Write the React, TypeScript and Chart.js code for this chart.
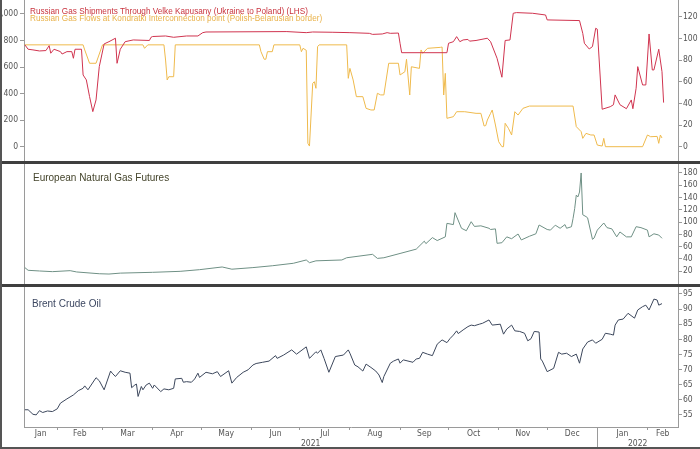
import React, { useEffect, useRef } from 'react';
import { Chart, registerables } from 'chart.js';

Chart.register(...registerables);

// x values are days counted from 2021-01-01
const X_MIN = 10.45;
const X_MAX = 414.9;
const MONTH_STARTS = [31, 59, 90, 120, 151, 181, 212, 243, 273, 304, 334, 365, 396];
const MONTH_NAMES = ['Jan', 'Feb', 'Mar', 'Apr', 'May', 'Jun', 'Jul', 'Aug', 'Sep', 'Oct', 'Nov', 'Dec', 'Jan', 'Feb'];
const YEAR_LABELS = ['2021', '2022'];
const YEAR_SPLIT = 365;

const LHS_TICKS = [0, 200, 400, 600, 800, 1000];
const RHS_TICKS = [0, 20, 40, 60, 80, 100, 120];
const GAS_TICKS = [20, 40, 60, 80, 100, 120, 140, 160, 180];
const BRENT_TICKS = [55, 60, 65, 70, 75, 80, 85, 90, 95];

const RED_LABEL = 'Russian Gas Shipments Through Velke Kapusany (Ukraine to Poland) (LHS)';
const ORANGE_LABEL = 'Russian Gas Flows at Kondratki Interconnection point (Polish-Belarusian border)';
const GAS_LABEL = 'European Natural Gas Futures';
const BRENT_LABEL = 'Brent Crude Oil';

const RED_DAYS = [11, 13, 16, 20, 24, 26, 27, 29, 33, 34, 37, 40, 41, 42, 46, 47, 49, 51, 53, 55, 57, 60, 63, 67, 68, 70, 73, 78, 88, 89, 90, 98, 103, 111, 118, 121, 123, 173, 185, 189, 201, 212, 224, 226, 232, 235, 237, 242, 243, 244, 272, 273, 276, 278, 280, 282, 285, 286, 290, 297, 299, 303, 306, 308, 311, 313, 315, 325, 333, 334, 354, 356, 357, 360, 362, 364, 365, 368, 373, 375, 376, 379, 383, 386, 387, 389, 390, 393, 395, 397, 399, 400, 403, 405, 406];
const RED_VALUES = [767, 734, 729, 721, 724, 761, 704, 734, 716, 698, 716, 716, 666, 734, 734, 540, 503, 377, 264, 352, 603, 774, 791, 817, 628, 734, 791, 804, 800, 824, 830, 834, 824, 834, 834, 859, 864, 867, 859, 864, 862, 859, 854, 846, 849, 859, 854, 856, 779, 708, 708, 779, 791, 829, 791, 804, 808, 795, 800, 817, 791, 666, 523, 800, 804, 1005, 1010, 1005, 992, 955, 950, 854, 779, 736, 754, 892, 885, 282, 301, 316, 390, 316, 286, 352, 286, 440, 603, 465, 465, 849, 578, 578, 734, 565, 332];

const ORANGE_DAYS = [11, 47, 48, 51, 55, 59, 84, 85, 87, 97, 98, 99, 100, 103, 104, 156, 157, 159, 160, 161, 164, 165, 181, 182, 183, 185, 186, 187, 189, 190, 191, 192, 193, 210, 211, 212, 214, 216, 220, 222, 225, 227, 229, 231, 233, 236, 242, 243, 246, 247, 249, 250, 255, 256, 257, 260, 268, 269, 270, 271, 272, 276, 278, 283, 290, 293, 295, 296, 297, 299, 300, 302, 304, 306, 307, 308, 310, 312, 314, 316, 319, 323, 350, 352, 355, 356, 358, 361, 363, 365, 368, 369, 370, 393, 396, 398, 402, 403, 404, 405];
const ORANGE_VALUES = [94, 94, 89.3, 77, 77, 94, 94, 90.8, 94, 94, 80, 61.6, 64.6, 64.6, 94, 94, 87.7, 80.7, 80.7, 87.7, 87.7, 94, 94, 87.7, 90.8, 89, 3.1, 0.6, 58.5, 60, 53.9, 92.3, 94, 94, 63.1, 72.3, 61.6, 46.2, 46.2, 35.4, 33.9, 33.9, 49.3, 47.8, 47.8, 77, 77, 66.2, 69.2, 80.7, 47.7, 73.8, 72.3, 89.3, 86.2, 90.8, 91.7, 92, 47.7, 67.7, 26.2, 27.7, 32.3, 32.3, 30.8, 30.8, 19.1, 19.5, 24.6, 30.8, 33.9, 20, 4.6, 0, 0, 21.6, 17, 10.8, 32.3, 29.2, 35.4, 37.5, 37.5, 18.5, 13.9, 7.7, 12.3, 10.8, 10.8, 1.5, 0.6, 7.7, 0, 0, 10.8, 9.2, 9.5, 3.1, 10.8, 8];

const GAS_DAYS = [11, 13, 20, 28, 39, 43, 57, 63, 70, 90, 107, 119, 133, 139, 152, 164, 177, 185, 187, 191, 207, 210, 226, 229, 233, 243, 253, 258, 259, 263, 266, 271, 272, 276, 277, 281, 284, 287, 289, 293, 298, 299, 302, 303, 306, 309, 312, 316, 318, 323, 327, 329, 334, 336, 339, 342, 345, 346, 349, 350, 351, 352, 353, 354, 355, 356, 358, 359, 362, 363, 365, 369, 371, 374, 377, 379, 383, 386, 389, 392, 396, 397, 400, 403, 405];
const GAS_VALUES = [26, 21.6, 20.5, 19.4, 21, 18.9, 16, 15.5, 17, 18.3, 19.9, 22.6, 27, 23.4, 26, 29, 33, 38.4, 34, 37, 38.4, 42, 47.6, 41, 42, 49, 56, 69, 65, 74.8, 70, 76, 98, 96, 115.4, 90, 86, 100.7, 93, 94, 90, 88, 89, 65.5, 66.5, 76, 73, 80.7, 71, 77, 81, 95.3, 88, 87, 95, 90, 96, 90, 92.5, 106, 122, 144, 141, 149, 180, 112, 109, 107, 72, 74, 87, 98.6, 91, 89, 76, 84, 76, 76, 92.6, 91, 87, 76, 81, 79, 73.7];

const BRENT_DAYS = [11, 13, 16, 18, 20, 22, 25, 28, 31, 33, 37, 41, 44, 47, 48, 50, 55, 57, 60, 64, 65, 67, 70, 73, 76, 77, 79, 80, 81, 83, 84, 86, 88, 90, 91, 95, 97, 100, 103, 104, 108, 109, 111, 114, 116, 118, 119, 123, 127, 130, 132, 137, 139, 142, 146, 149, 152, 154, 158, 162, 166, 167, 171, 176, 179, 185, 187, 189, 191, 192, 194, 196, 199, 203, 208, 211, 212, 215, 217, 220, 222, 225, 228, 230, 232, 233, 237, 239, 242, 243, 245, 251, 253, 255, 257, 260, 263, 266, 269, 272, 274, 276, 278, 279, 282, 285, 287, 289, 292, 294, 298, 300, 305, 307, 309, 312, 314, 317, 320, 322, 324, 326, 329, 330, 331, 334, 338, 341, 343, 346, 349, 352, 354, 356, 359, 362, 364, 368, 370, 373, 375, 376, 378, 381, 384, 388, 390, 393, 395, 397, 400, 402, 403, 405];
const BRENT_VALUES = [56.7, 56.7, 55.2, 55.0, 56.4, 55.8, 56.3, 56.1, 57.0, 58.9, 60.3, 61.6, 63.0, 63.8, 64.6, 63.3, 67.3, 66.3, 63.3, 69.5, 68.8, 67.7, 69.6, 69.1, 68.8, 64.0, 64.9, 65.2, 61.1, 64.4, 63.3, 64.9, 65.5, 63.8, 64.9, 62.7, 63.6, 63.3, 63.8, 66.9, 67.1, 65.8, 66.0, 65.8, 66.9, 68.8, 67.4, 69.1, 68.6, 69.3, 67.7, 69.6, 65.5, 67.4, 69.1, 69.9, 71.5, 72.0, 72.4, 72.8, 74.6, 73.7, 74.8, 76.5, 75.1, 77.5, 73.7, 74.8, 75.9, 75.4, 76.5, 73.7, 69.1, 74.3, 74.8, 76.5, 75.4, 71.5, 70.9, 69.5, 71.8, 70.7, 69.5, 68.2, 65.7, 67.7, 72.1, 72.8, 73.5, 72.1, 73.2, 72.4, 73.5, 73.7, 75.7, 75.1, 74.6, 78.4, 79.8, 78.9, 80.3, 81.4, 82.8, 81.9, 83.1, 84.2, 84.7, 84.5, 85.0, 85.3, 86.4, 84.7, 85.0, 81.7, 83.4, 84.7, 82.8, 82.6, 82.0, 79.5, 80.2, 82.6, 82.4, 73.5, 72.8, 69.3, 70.4, 75.7, 75.1, 75.4, 74.3, 75.1, 72.1, 76.8, 79.1, 79.8, 78.7, 80.0, 82.0, 81.7, 81.4, 84.7, 86.4, 86.7, 88.6, 87.0, 89.7, 90.8, 91.3, 89.7, 93.3, 93.0, 91.3, 91.8];

const FONT = "'Liberation Sans', Arial, sans-serif";
const TICK_FONT = "'Liberation Sans Narrow', 'Arial Narrow', 'DejaVu Sans Condensed', 'Liberation Sans', sans-serif";
const TICK_COLOR = '#555555';
const AXIS_COLOR = '#9a9a9a';
const RED = '#d0344f';
const ORANGE = '#efba4c';
const GAS_COLOR = '#6f9085';
const BRENT_COLOR = '#3c475c';

const pts = (xs: number[], ys: number[]) => xs.map((x, i) => ({ x, y: ys[i] }));

const noPad = (s: any) => {
  s.paddingTop = 0;
  s.paddingBottom = 0;
  s.paddingLeft = 0;
  s.paddingRight = 0;
};

// month boundary ticks + centred month labels
const buildXTicks = () => {
  const edges = [X_MIN, ...MONTH_STARTS, X_MAX];
  const out: { value: number; label: string; boundary: boolean }[] = [];
  for (let i = 0; i < edges.length - 1; i++) {
    out.push({ value: (edges[i] + edges[i + 1]) / 2, label: MONTH_NAMES[i], boundary: false });
    if (i < MONTH_STARTS.length) out.push({ value: MONTH_STARTS[i], label: '', boundary: true });
  }
  return out;
};
const X_TICKS = buildXTicks();
const YEAR_TICKS = [
  { value: (X_MIN + YEAR_SPLIT) / 2, label: YEAR_LABELS[0] },
  { value: (YEAR_SPLIT + X_MAX) / 2, label: YEAR_LABELS[1] },
];

const hiddenX = () => ({ type: 'linear', min: X_MIN, max: X_MAX, display: false, afterFit: noPad });

const valueAxis = (position: 'left' | 'right', min: number, max: number, ticks: number[], width: number, tickLen: number, pad: number) => ({
  type: 'linear',
  position,
  min,
  max,
  afterBuildTicks: (s: any) => {
    s.ticks = ticks.map((v) => ({ value: v }));
  },
  afterFit: (s: any) => {
    s.width = width;
    noPad(s);
  },
  grid: { display: true, drawOnChartArea: false, drawTicks: true, tickLength: tickLen, color: AXIS_COLOR, tickColor: AXIS_COLOR },
  border: { display: true, color: AXIS_COLOR, width: 1 },
  ticks: { padding: pad, color: TICK_COLOR, font: { family: TICK_FONT, size: 8.5 }, autoSkip: false },
});

const plainLeft = () => ({
  type: 'linear',
  position: 'left',
  min: 0,
  max: 1,
  afterFit: (s: any) => {
    s.width = 24;
    noPad(s);
  },
  grid: { display: false, drawTicks: false },
  border: { display: true, color: AXIS_COLOR, width: 1 },
  ticks: { display: false },
});

const baseOptions = (scales: any) => ({
  animation: false,
  responsive: false,
  events: [],
  layout: { padding: 0 },
  plugins: { legend: { display: false }, tooltip: { enabled: false }, title: { display: false } },
  elements: { point: { radius: 0 }, line: { tension: 0, borderWidth: 1 } },
  scales,
});

const topConfig = (): any => ({
  type: 'line',
  data: {
    datasets: [
      { label: RED_LABEL, data: pts(RED_DAYS, RED_VALUES), borderColor: RED, yAxisID: 'yL', pointRadius: 0, borderWidth: 1 },
      { label: ORANGE_LABEL, data: pts(ORANGE_DAYS, ORANGE_VALUES), borderColor: ORANGE, yAxisID: 'yR', pointRadius: 0, borderWidth: 1 },
    ],
  },
  options: baseOptions({
    x: hiddenX(),
    yL: valueAxis('left', -108, 1105, LHS_TICKS, 24, 4, 2),
    yR: valueAxis('right', -13.2, 135.4, RHS_TICKS, 22, 4, 1),
  }),
});

const midConfig = (): any => ({
  type: 'line',
  data: {
    datasets: [{ label: GAS_LABEL, data: pts(GAS_DAYS, GAS_VALUES), borderColor: GAS_COLOR, yAxisID: 'yR', pointRadius: 0, borderWidth: 1 }],
  },
  options: baseOptions({
    x: hiddenX(),
    yl: plainLeft(),
    yR: valueAxis('right', -0.7, 194.6, GAS_TICKS, 22, 4, 1),
  }),
});

const yearDivider = {
  id: 'yearDivider',
  afterDraw(chart: any) {
    const x = Math.round(chart.scales.x.getPixelForValue(YEAR_SPLIT)) + 0.5;
    const ctx = chart.ctx;
    ctx.save();
    ctx.strokeStyle = AXIS_COLOR;
    ctx.lineWidth = 1;
    ctx.beginPath();
    ctx.moveTo(x, chart.chartArea.bottom);
    ctx.lineTo(x, chart.height);
    ctx.stroke();
    ctx.restore();
  },
};

const bottomConfig = (): any => ({
  type: 'line',
  data: {
    datasets: [{ label: BRENT_LABEL, data: pts(BRENT_DAYS, BRENT_VALUES), borderColor: BRENT_COLOR, yAxisID: 'yR', pointRadius: 0, borderWidth: 1 }],
  },
  options: baseOptions({
    x: {
      type: 'linear',
      position: 'bottom',
      weight: 0,
      min: X_MIN,
      max: X_MAX,
      afterBuildTicks: (s: any) => {
        s.ticks = X_TICKS.map((t) => ({ value: t.value }));
      },
      afterFit: (s: any) => {
        s.height = 12;
        noPad(s);
      },
      grid: {
        display: true,
        drawOnChartArea: false,
        drawTicks: true,
        tickLength: 3,
        color: 'rgba(0,0,0,0)',
        tickColor: (c: any) => (X_TICKS[c.index] && X_TICKS[c.index].boundary ? AXIS_COLOR : 'rgba(0,0,0,0)'),
      },
      border: { display: true, color: AXIS_COLOR, width: 1 },
      ticks: {
        autoSkip: false,
        maxRotation: 0,
        minRotation: 0,
        padding: -1,
        color: TICK_COLOR,
        font: { family: TICK_FONT, size: 8.5 },
        callback: (_v: any, i: number) => (X_TICKS[i] ? X_TICKS[i].label : ''),
      },
    },
    x2: {
      type: 'linear',
      position: 'bottom',
      weight: 1,
      min: X_MIN,
      max: X_MAX,
      afterBuildTicks: (s: any) => {
        s.ticks = YEAR_TICKS.map((t) => ({ value: t.value }));
      },
      afterFit: (s: any) => {
        s.height = 10;
        noPad(s);
      },
      grid: { display: false, drawTicks: false },
      border: { display: false },
      ticks: {
        autoSkip: false,
        maxRotation: 0,
        minRotation: 0,
        padding: 0,
        color: TICK_COLOR,
        font: { family: TICK_FONT, size: 8.5 },
        callback: (_v: any, i: number) => (YEAR_TICKS[i] ? YEAR_TICKS[i].label : ''),
      },
    },
    yl: plainLeft(),
    yR: valueAxis('right', 51.0, 97.3, BRENT_TICKS, 22, 4, 1),
  }),
  plugins: [yearDivider],
});

function ChartCanvas({ top, height, build }: { top: number; height: number; build: () => any }) {
  const ref = useRef<HTMLCanvasElement>(null);
  useEffect(() => {
    const chart = new Chart(ref.current as HTMLCanvasElement, build());
    return () => chart.destroy();
  }, []);
  return (
    <canvas
      ref={ref}
      width={700}
      height={height}
      style={{ position: 'absolute', left: 0, top, width: 700, height, display: 'block' }}
    />
  );
}

const textStyle = (left: number, top: number, size: number, color: string): React.CSSProperties => ({
  position: 'absolute',
  left,
  top,
  fontFamily: FONT,
  fontSize: size,
  lineHeight: `${size}px`,
  color,
  whiteSpace: 'nowrap',
  pointerEvents: 'none',
});

export default function App() {
  return (
    <div style={{ position: 'absolute', left: 0, top: 0, width: 700, height: 449, background: '#ffffff', overflow: 'hidden' }}>
      <ChartCanvas top={0} height={161} build={topConfig} />
      <ChartCanvas top={164} height={120} build={midConfig} />
      <ChartCanvas top={287} height={162} build={bottomConfig} />
      <div style={{ position: 'absolute', left: 0, top: 161, width: 700, height: 3, background: '#3f3f3f' }} />
      <div style={{ position: 'absolute', left: 0, top: 284, width: 700, height: 3, background: '#3f3f3f' }} />
      <div style={{ position: 'absolute', left: 0, top: 0, width: 2, height: 449, background: '#555555' }} />
      <div style={{ position: 'absolute', left: 0, top: 447, width: 700, height: 2, background: '#555555' }} />
      <div style={textStyle(30, 8, 8.2, '#c9343f')}>{RED_LABEL}</div>
      <div style={textStyle(30, 15, 8.2, '#e9b24a')}>{ORANGE_LABEL}</div>
      <div style={textStyle(33, 173, 10, '#45452c')}>{GAS_LABEL}</div>
      <div style={textStyle(32, 299, 10, '#3d4862')}>{BRENT_LABEL}</div>
    </div>
  );
}
